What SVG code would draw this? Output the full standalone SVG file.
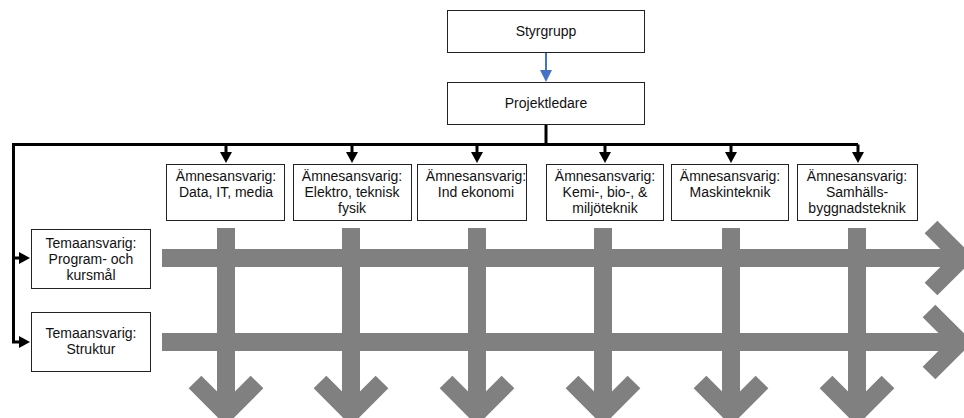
<svg xmlns="http://www.w3.org/2000/svg" width="964" height="418" viewBox="0 0 964 418">
<defs>
<style>
.box{fill:#fff;stroke:#222;stroke-width:1}
.t{font-family:"Liberation Sans",Arial,sans-serif;font-size:14px;fill:#111;text-anchor:middle}
.con{fill:none;stroke:#000;stroke-width:3}
.gray{fill:none;stroke:#808080;stroke-width:18;stroke-linejoin:miter;stroke-linecap:butt}
</style>
<marker id="ah" markerUnits="userSpaceOnUse" markerWidth="12" markerHeight="12" refX="1" refY="6" orient="auto">
<path d="M0,0 L11,6 L0,12 z" fill="#000"/>
</marker>
<marker id="bh" markerUnits="userSpaceOnUse" markerWidth="13" markerHeight="13" refX="1" refY="6" orient="auto">
<path d="M0,0 L12,6 L0,12 z" fill="#4472C4"/>
</marker>
</defs>
<g id="flows">
<path class="gray" d="M162,258 H962 M931,227 L962,258 L931,289"/>
<path class="gray" d="M162,342 H960 M929,311 L960,342 L929,373"/>
<path class="gray" d="M226,228 V413 M195,382 L226,413 L257,382"/>
<path class="gray" d="M351,228 V413 M320,382 L351,413 L382,382"/>
<path class="gray" d="M477,228 V413 M446,382 L477,413 L508,382"/>
<path class="gray" d="M603,228 V413 M572,382 L603,413 L634,382"/>
<path class="gray" d="M731,228 V413 M700,382 L731,413 L762,382"/>
<path class="gray" d="M857,228 V413 M826,382 L857,413 L888,382"/>
</g>
<g id="connectors">
<line x1="546" y1="53" x2="546" y2="71" stroke="#4472C4" stroke-width="2" marker-end="url(#bh)"/>
<path class="con" d="M546,125 V144.5"/>
<path class="con" d="M13.5,144.5 H858"/>
<path class="con" d="M13.5,143 V342 H20" marker-end="url(#ah)"/>
<path class="con" d="M13.5,258 H20" marker-end="url(#ah)"/>
<path class="con" d="M226,144.5 V153" marker-end="url(#ah)"/>
<path class="con" d="M352,144.5 V153" marker-end="url(#ah)"/>
<path class="con" d="M477,144.5 V153" marker-end="url(#ah)"/>
<path class="con" d="M605,144.5 V153" marker-end="url(#ah)"/>
<path class="con" d="M731,144.5 V153" marker-end="url(#ah)"/>
<path class="con" d="M858,144.5 V153" marker-end="url(#ah)"/>
</g>
<g id="styrgrupp">
<rect class="box" x="447.5" y="10.5" width="197" height="42"/>
<text class="t" x="546" y="36">Styrgrupp</text>
</g>
<g id="projektledare">
<rect class="box" x="447.5" y="82.5" width="197" height="42"/>
<text class="t" x="546" y="108">Projektledare</text>
</g>
<g id="amne1">
<rect class="box" x="166.5" y="164.5" width="118" height="56"/>
<text class="t" x="226" y="181">Ämnesansvarig:</text>
<text class="t" x="226" y="197">Data, IT, media</text>
</g>
<g id="amne2">
<rect class="box" x="293.5" y="164.5" width="118" height="56"/>
<text class="t" x="352" y="181">Ämnesansvarig:</text>
<text class="t" x="352" y="197">Elektro, teknisk</text>
<text class="t" x="352" y="213">fysik</text>
</g>
<g id="amne3">
<rect class="box" x="417.5" y="164.5" width="109" height="56"/>
<text class="t" x="476" y="181">Ämnesansvarig:</text>
<text class="t" x="476" y="197">Ind ekonomi</text>
</g>
<g id="amne4">
<rect class="box" x="546.5" y="164.5" width="117" height="56"/>
<text class="t" x="605" y="181">Ämnesansvarig:</text>
<text class="t" x="605" y="197">Kemi-, bio-, &amp;</text>
<text class="t" x="605" y="213">miljöteknik</text>
</g>
<g id="amne5">
<rect class="box" x="671.5" y="164.5" width="117" height="56"/>
<text class="t" x="730" y="181">Ämnesansvarig:</text>
<text class="t" x="730" y="197">Maskinteknik</text>
</g>
<g id="amne6">
<rect class="box" x="797.5" y="164.5" width="120" height="56"/>
<text class="t" x="857" y="181">Ämnesansvarig:</text>
<text class="t" x="857" y="197">Samhälls-</text>
<text class="t" x="857" y="213">byggnadsteknik</text>
</g>
<g id="tema1">
<rect class="box" x="31.5" y="229.5" width="119" height="59"/>
<text class="t" x="91" y="248">Temaansvarig:</text>
<text class="t" x="91" y="264">Program- och</text>
<text class="t" x="91" y="280">kursmål</text>
</g>
<g id="tema2">
<rect class="box" x="31.5" y="312.5" width="119" height="59"/>
<text class="t" x="91" y="338">Temaansvarig:</text>
<text class="t" x="91" y="354">Struktur</text>
</g>
</svg>
